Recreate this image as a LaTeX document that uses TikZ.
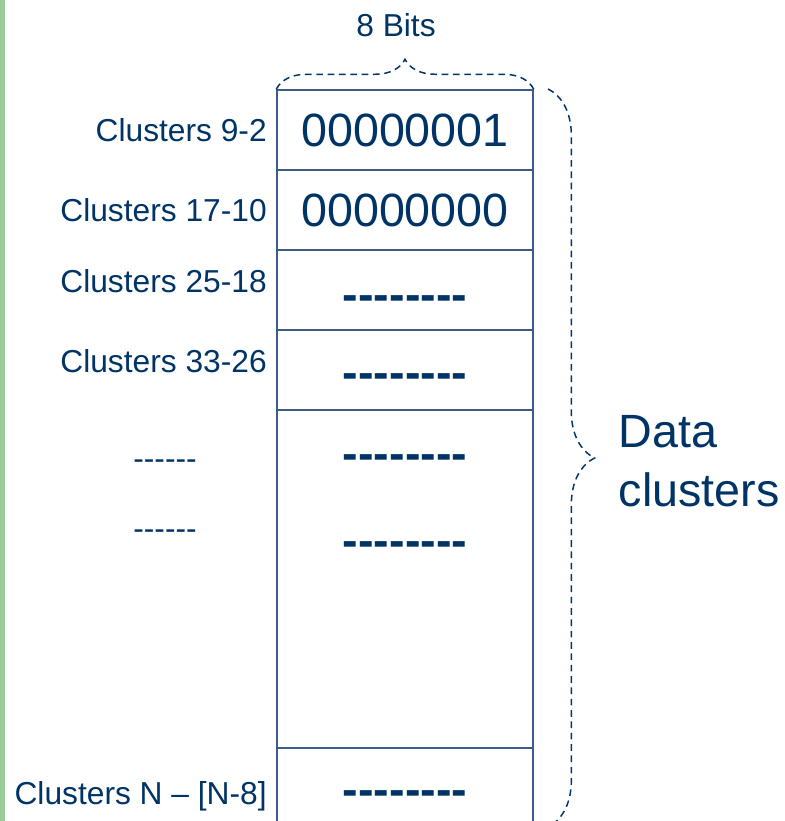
\documentclass[tikz,border=0pt]{standalone}
\usepackage{fontspec}
\setmainfont{Liberation Sans}[Ligatures=TeXOff]
\usetikzlibrary{decorations.pathreplacing}
\definecolor{navy}{RGB}{0,51,102}
\definecolor{cellline}{RGB}{60,92,138}
\definecolor{sidegreen}{RGB}{153,204,153}
\tikzstyle{cell} = [rectangle, draw=cellline, line width=1.1pt, minimum width=192pt, minimum height=60pt, inner sep=0pt, text=navy, font=\fontsize{35}{42}\selectfont]
\tikzstyle{bigtext} = [text=navy, font=\fontsize{35}{42}\selectfont]
\tikzstyle{bits} = [text=navy, font=\fontsize{35}{42}\selectfont\bfseries]
\tikzstyle{label} = [text=navy, font=\fontsize{23.8}{28}\selectfont, inner sep=0pt]
\tikzstyle{brace} = [draw=navy, line width=1.1pt, dash pattern=on 5pt off 3.5pt, decorate]

\begin{document}
\begin{tikzpicture}[x=0.75pt, y=-0.75pt]
            \clip (0,0) rectangle (785,821);
            \fill [sidegreen] (0,0) rectangle (5,821);

            \node [cell] at (405,130) (c1) {00000001};
            \node [cell] at (405,210) (c2) {00000000};
            \node [cell] at (405,290) (c3) {};
            \node [cell] at (405,370) (c4) {};
            \node [cell, minimum height=252.75pt] at (405,579) (c5) {};
            \node [cell, minimum height=63pt] at (405,790) (c6) {};

            \node [bits] at (405,303) (d1) {--------};
            \node [bits] at (405,381) (d2) {--------};
            \node [bits] at (405,462) (d3) {--------};
            \node [bits] at (405,549) (d4) {--------};
            \node [bits] at (405,798) (d5) {--------};

            \node [label, anchor=east] at (267,130) (l1) {Clusters 9-2};
            \node [label, anchor=east] at (267,210) (l2) {Clusters 17-10};
            \node [label, anchor=east] at (267,281) (l3) {Clusters 25-18};
            \node [label, anchor=east] at (267,361) (l4) {Clusters 33-26};
            \node [label] at (165,465) (l5) {------};
            \node [label] at (165,535) (l6) {------};
            \node [label, anchor=east] at (267,796) (l7) {Clusters N – [N-8]};

            \node [label] at (396,25) (width) {8 Bits};
            \node [bigtext, anchor=west, align=left, font=\fontsize{35}{44}\selectfont] at (614,461) (data) {Data\\clusters};

            \coordinate (bt) at (548,89);
            \coordinate (bb) at (548,827);
            \draw [brace, decoration={brace, amplitude=22.5pt}] (c1.north west) -- (c1.north east);
            \draw [brace, decoration={brace, amplitude=35pt}] (bt) -- (bb);
            \end{tikzpicture}
\end{document}
